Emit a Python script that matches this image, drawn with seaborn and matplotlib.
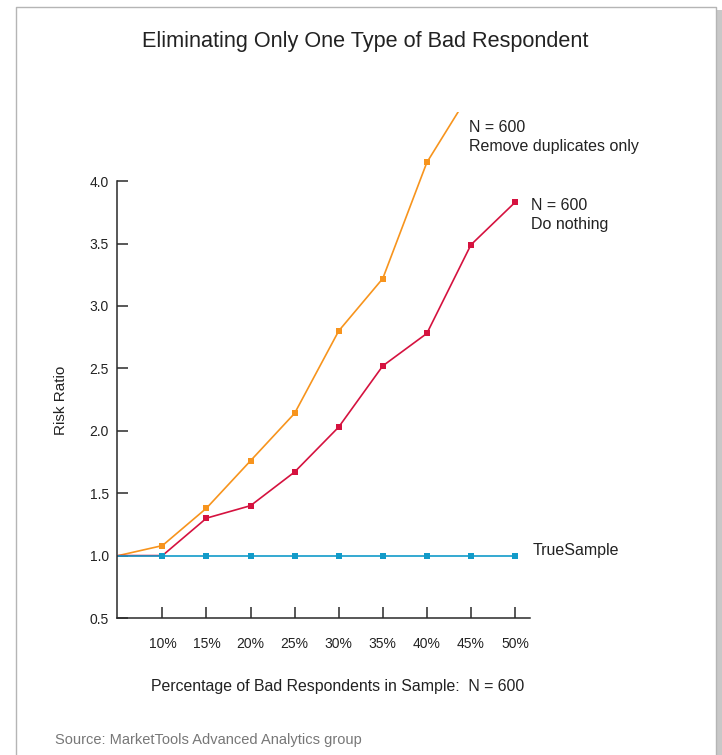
import matplotlib
matplotlib.use("Agg")
import matplotlib.pyplot as plt
from matplotlib.lines import Line2D
from matplotlib.patches import Rectangle
import seaborn as sns
import pandas as pd

# Share of bad respondents (percent); 5% is the axis origin
pct = [5, 10, 15, 20, 25, 30, 35, 40, 45, 50]
tick_pct = [10, 15, 20, 25, 30, 35, 40, 45, 50]
tick_labels = ["10%", "15%", "20%", "25%", "30%", "35%", "40%", "45%", "50%"]

remove_dupes = [1.0, 1.08, 1.38, 1.76, 2.14, 2.80, 3.22, 4.15, 4.72]
do_nothing = [1.0, 1.0, 1.30, 1.40, 1.67, 2.03, 2.52, 2.78, 3.49, 3.83]
true_sample = [1.0, 1.0, 1.0, 1.0, 1.0, 1.0, 1.0, 1.0, 1.0, 1.0]

y_ticks = [0.5, 1.0, 1.5, 2.0, 2.5, 3.0, 3.5, 4.0]

ORANGE = "#F7941D"
RED = "#D5123F"
BLUE = "#129BC9"
INK = "#222222"

sns.set_theme(style="white")
plt.rcParams["font.family"] = ["Liberation Sans", "DejaVu Sans"]

fig = plt.figure(figsize=(7.22, 7.55), dpi=100)
W, H = 722, 755

# page frame with a soft shadow on the right
fig.add_artist(Rectangle((716 / W, 0), 6 / W, (H - 10) / H, transform=fig.transFigure,
                         facecolor="#C8C8C8", edgecolor="none"))
fig.add_artist(Line2D([16 / W, 16 / W, 716 / W, 716 / W], [0, (H - 7) / H, (H - 7) / H, 0],
                      transform=fig.transFigure, color="#B5B5B5", lw=1.0))

ax = fig.add_axes([117 / W, (H - 618) / H, (530 - 117) / W, (618 - 112) / H])

series = [
    (remove_dupes, ORANGE),
    (do_nothing, RED),
    (true_sample, BLUE),
]
for vals, color in series:
    df = pd.DataFrame({"pct": pct[:len(vals)], "ratio": vals})
    sns.lineplot(data=df, x="pct", y="ratio", ax=ax, color=color, lw=1.2,
                 marker="s", markersize=4.6, markeredgewidth=0,
                 markevery=list(range(1, len(vals))), estimator=None, sort=False,
                 clip_on=True)

ax.set_xlim(4.85, 51.7)
ax.set_ylim(0.5, 4.554)
ax.set_xticks(tick_pct)
ax.set_xticklabels(tick_labels)
ax.set_yticks(y_ticks)
ax.set_yticklabels([f"{v:.1f}" for v in y_ticks])

for side in ["top", "right"]:
    ax.spines[side].set_visible(False)
for side in ["left", "bottom"]:
    ax.spines[side].set_color("#2a2a2a")
    ax.spines[side].set_linewidth(1.1)
ax.spines["left"].set_bounds(0.5, 4.0)

ax.tick_params(axis="x", bottom=True, direction="in", length=8, width=1.1, color="#2a2a2a",
               pad=14, labelsize=10, labelcolor=INK)
ax.tick_params(axis="y", left=True, direction="in", length=8, width=1.1, color="#2a2a2a",
               pad=6, labelsize=10, labelcolor=INK)

ax.set_xlabel("Percentage of Bad Respondents in Sample:  N = 600", fontsize=11.4, color=INK)
ax.set_ylabel("Risk Ratio", fontsize=11, color=INK)
ax.yaxis.set_label_coords(-0.119, 0.43)
ax.xaxis.set_label_coords(0.533, -0.121)

ax.patch.set_visible(False)

# series labels
ax.text(469 / W, (H - 137) / H, "N = 600\nRemove duplicates only", transform=fig.transFigure,
        fontsize=11.5, color=INK, va="center", ha="left", linespacing=1.3)
ax.text(531 / W, (H - 215) / H, "N = 600\nDo nothing", transform=fig.transFigure,
        fontsize=11.5, color=INK, va="center", ha="left", linespacing=1.3)
ax.text(533 / W, (H - 551) / H, "TrueSample", transform=fig.transFigure,
        fontsize=11.5, color=INK, va="center", ha="left")

fig.text(365 / W, (H - 41) / H, "Eliminating Only One Type of Bad Respondent",
         fontsize=15.6, color=INK, ha="center", va="center")
fig.text(55 / W, (H - 740) / H, "Source: MarketTools Advanced Analytics group",
         fontsize=10.5, color="#777777", ha="left", va="center")

fig.savefig("out.png", dpi=100, facecolor="white")
